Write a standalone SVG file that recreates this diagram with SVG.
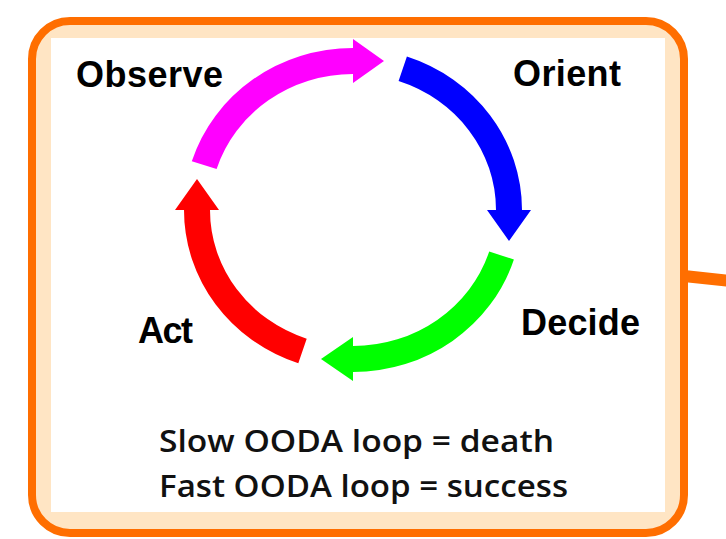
<svg xmlns="http://www.w3.org/2000/svg" width="726" height="539" viewBox="0 0 726 539">
  <style>
    .frame { fill: #FFE5C4; stroke: #FF6E00; stroke-width: 8; }
    .panel { fill: #FFFFFF; }
    .phase { font-family: "Liberation Sans", Arial, sans-serif; font-weight: bold; font-size: 36px; fill: #000000; }
    .note { font-family: "Open Sans", "Noto Sans", sans-serif; font-weight: 600; font-size: 31px; fill: #111111; }
    .link { stroke: #FF6E00; stroke-width: 12; fill: none; }
  </style>

  <!-- outgoing link to the right -->
  <line class="link" x1="684" y1="276" x2="730" y2="281"/>

  <!-- framed panel -->
  <g id="panel">
    <rect class="frame" x="32" y="21" width="652" height="512" rx="38" ry="38"/>
    <rect class="panel" x="51" y="38" width="614" height="474"/>
  </g>

  <!-- loop arrows: ring centred at (353,210), radii 156 x 149, band 26, head 44 x 31 -->
  <g id="connectors">
    <path id="arrow-observe-orient" fill="#FF00FF"
          d="M216.6,169.1 L191.8,161.3 A169,162 0 0 1 353,48 L353,39 L384,61 L353,83 L353,74 A143,136 0 0 0 216.6,169.1 Z"/>
    <path id="arrow-orient-decide" fill="#0000FF"
          d="M398.6,81.1 L406.9,56.5 A169,162 0 0 1 522,210 L531,210 L509,241 L487,210 L496,210 A143,136 0 0 0 398.6,81.1 Z"/>
    <path id="arrow-decide-act" fill="#00FF00"
          d="M489.2,251.6 L513.9,259.5 A169,162 0 0 1 353,372 L353,381 L321,359 L353,337 L353,346 A143,136 0 0 0 489.2,251.6 Z"/>
    <path id="arrow-act-observe" fill="#FF0000"
          d="M306.7,338.7 L298.3,363.3 A169,162 0 0 1 184,210 L175,210 L197,179 L219,210 L210,210 A143,136 0 0 0 306.7,338.7 Z"/>
  </g>

  <g id="observe"><text class="phase" x="76" y="87" textLength="147">Observe</text></g>
  <g id="orient"><text class="phase" x="513" y="86" textLength="108">Orient</text></g>
  <g id="decide"><text class="phase" x="521" y="335" textLength="119">Decide</text></g>
  <g id="act"><text class="phase" x="138" y="343" textLength="55">Act</text></g>

  <g id="summary">
    <text class="note" x="159" y="452" textLength="395" lengthAdjust="spacingAndGlyphs">Slow OODA loop = death</text>
    <text class="note" x="159" y="497" textLength="409" lengthAdjust="spacingAndGlyphs">Fast OODA loop = success</text>
  </g>
</svg>
